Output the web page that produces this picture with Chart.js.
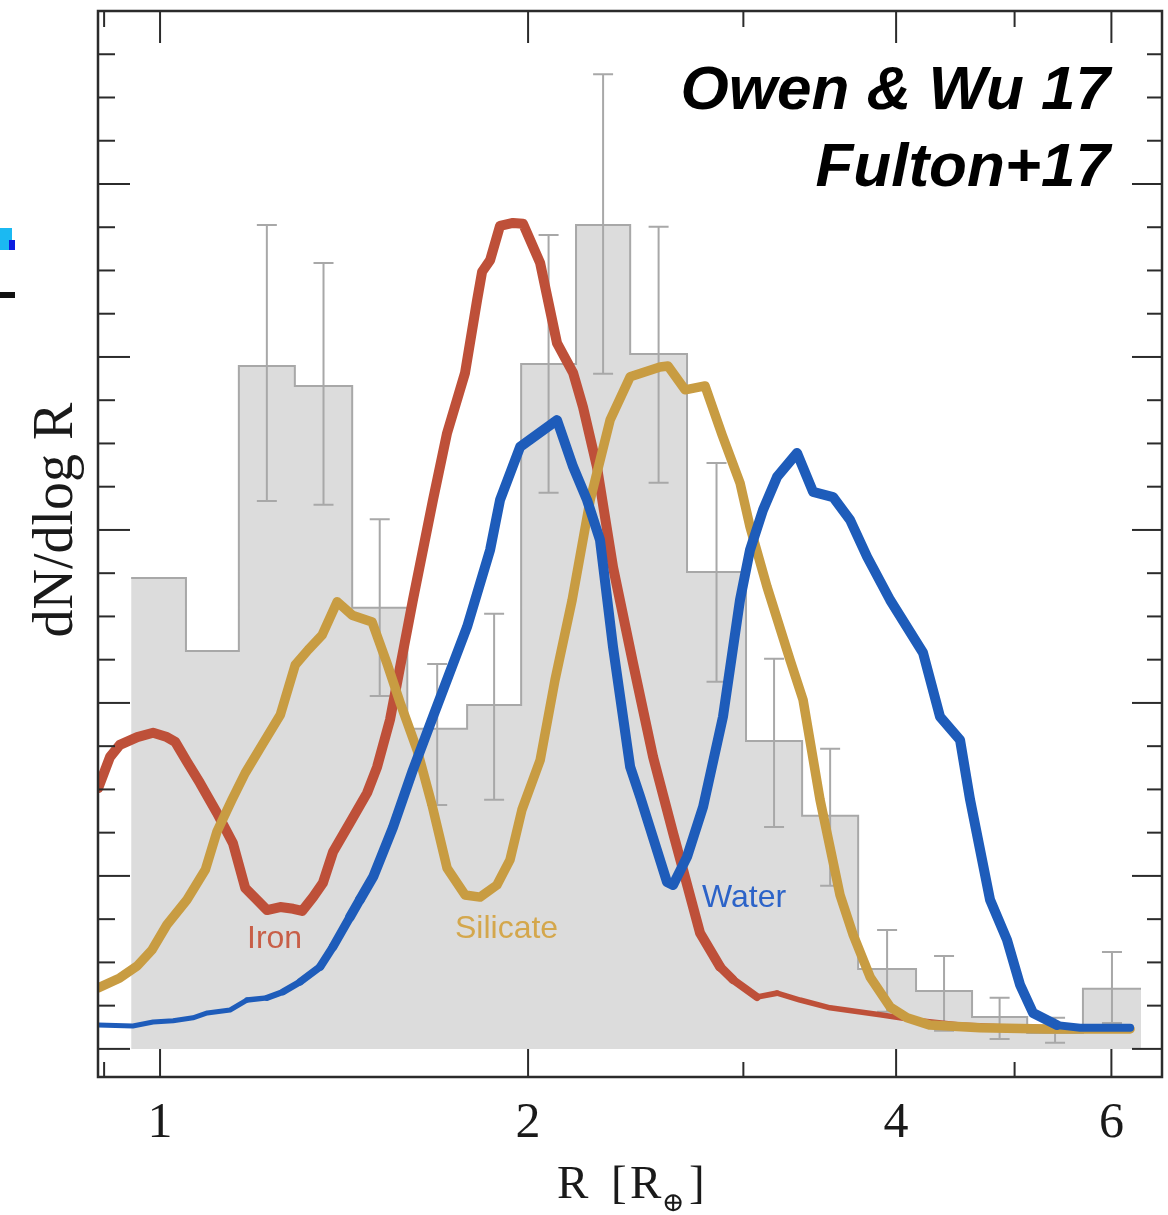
<!DOCTYPE html>
<html>
<head>
<meta charset="utf-8">
<title>Radius distribution: Owen &amp; Wu 17 vs Fulton+17</title>
<script src="https://cdn.jsdelivr.net/npm/chart.js@4.4.1/dist/chart.umd.min.js"></script>
<style>
    html, body { margin: 0; padding: 0; background: #fff; }
    #wrap { width: 1168px; height: 1215px; }
</style>
</head>
<body>
<div id="wrap"><canvas id="radiusChart" width="1168" height="1215"></canvas></div>
<script>
// Fulton+17 histogram (bin edges in R_earth, heights in minor-tick units)
const binEdges = [0.947, 1.050, 1.160, 1.289, 1.436, 1.593, 1.783, 1.974, 2.189, 2.424,
    2.698, 3.015, 3.351, 3.724, 4.153, 4.615, 5.120, 5.687, 6.344];
const binCounts = [10.89, 9.20, 15.79, 15.33, 10.20, 7.40, 7.95, 15.84, 19.05, 16.07,
    11.03, 7.12, 5.39, 1.85, 1.34, 0.74, 0.37, 1.39];
const errLow = [null, null, 12.67, 12.58, 8.16, 5.64, 5.76, 12.86, 15.61, 13.09,
    8.49, 5.13, 3.77, 0.86, 0.42, 0.23, 0.14, 0.60];
const errHigh = [null, null, 19.05, 18.17, 12.25, 8.90, 10.06, 18.82, 22.54, 19.01,
    13.55, 9.02, 6.94, 2.75, 2.15, 1.18, 0.72, 2.24];

// Owen & Wu 17 model curves
const ironR = [0.890, 0.910, 0.927, 0.958, 0.987, 1.013, 1.029, 1.052, 1.078, 1.113, 1.147,
    1.174, 1.200, 1.223, 1.254, 1.285, 1.307, 1.334, 1.359, 1.385, 1.430, 1.477, 1.505, 1.542,
    1.610, 1.672, 1.717, 1.776, 1.817, 1.834, 1.862, 1.897, 1.944, 1.981, 2.046, 2.112, 2.177,
    2.218, 2.277, 2.347, 2.437, 2.531, 2.628, 2.678, 2.765, 2.871, 2.942, 3.078, 3.197, 3.338,
    3.532, 3.881, 4.185, 4.512, 4.865, 5.346, 6.215];
const ironN = [6.03, 6.75, 7.03, 7.21, 7.31, 7.21, 7.10, 6.64, 6.15, 5.46, 4.76,
    3.72, 3.45, 3.21, 3.28, 3.24, 3.19, 3.51, 3.84, 4.55, 5.23, 5.92, 6.52, 7.61,
    10.38, 12.69, 14.24, 15.63, 17.32, 17.97, 18.24, 19.03, 19.10, 19.08, 18.17, 16.32, 15.63,
    14.84, 13.46, 11.14, 8.92, 6.75, 4.99, 4.14, 2.68, 1.90, 1.60, 1.20, 1.29, 1.13,
    0.95, 0.79, 0.65, 0.55, 0.51, 0.49, 0.49];

const silicateR = [0.890, 0.927, 0.958, 0.985, 1.013, 1.052, 1.089, 1.113, 1.145, 1.174, 1.212,
    1.254, 1.290, 1.322, 1.357, 1.396, 1.436, 1.491, 1.533, 1.572, 1.623, 1.669, 1.717, 1.776,
    1.827, 1.886, 1.933, 1.977, 2.046, 2.104, 2.173, 2.248, 2.334, 2.424, 2.564, 2.603, 2.688,
    2.791, 2.882, 2.981, 3.038, 3.137, 3.276, 3.357, 3.466, 3.599, 3.689, 3.809, 3.955, 4.083,
    4.264, 4.685, 5.316, 6.215];
const silicateN = [1.41, 1.64, 1.92, 2.29, 2.87, 3.45, 4.14, 5.02, 5.76, 6.38, 7.03,
    7.72, 8.88, 9.23, 9.57, 10.34, 10.03, 9.87, 8.92, 8.00, 6.91, 5.64, 4.18, 3.56,
    3.51, 3.79, 4.37, 5.53, 6.68, 8.53, 10.38, 12.69, 14.54, 15.54, 15.77, 15.79, 15.24,
    15.33, 14.20, 13.09, 12.07, 10.68, 8.99, 8.07, 5.76, 3.56, 2.64, 1.66, 0.97, 0.72,
    0.55, 0.49, 0.46, 0.46];

const waterR = [0.890, 0.950, 0.987, 1.025, 1.064, 1.093, 1.141, 1.178, 1.223, 1.261, 1.302,
    1.352, 1.385, 1.430, 1.457, 1.494, 1.551, 1.610, 1.672, 1.783, 1.862, 1.897, 1.970, 2.112,
    2.177, 2.235, 2.290, 2.347, 2.424, 2.470, 2.598, 2.628, 2.698, 2.781, 2.887, 2.981, 3.038,
    3.113, 3.197, 3.319, 3.421, 3.552, 3.668, 3.787, 3.955, 4.208, 4.345, 4.512, 4.598, 4.774,
    4.929, 5.052, 5.177, 5.416, 5.656, 6.215];
const waterN = [0.55, 0.53, 0.62, 0.65, 0.72, 0.83, 0.90, 1.13, 1.18, 1.32, 1.55,
    1.90, 2.36, 3.05, 3.45, 3.98, 5.13, 6.45, 7.68, 9.76, 11.54, 12.69, 13.92, 14.54,
    13.46, 12.69, 11.77, 9.29, 6.52, 5.83, 3.86, 3.79, 4.44, 5.60, 7.68, 10.38, 11.54,
    12.46, 13.23, 13.78, 12.88, 12.76, 12.23, 11.38, 10.38, 9.16, 7.68, 7.14, 5.76, 3.45,
    2.52, 1.48, 0.83, 0.55, 0.49, 0.49];

// axis ticks
const xMajorTicks = [1, 2, 4, 6];
const xTickLabels = ['1', '2', '4', '6'];
const xMinorTicks = [0.9, 3, 5];
const xMin = 0.8897, xMax = 6.600;
const yMin = -0.65, yMax = 24;

const IRON = '#be5039', SILICATE = '#c89c42', WATER = '#1e5cba';

function toPoints(xs, ys) {
    return xs.map((x, i) => ({ x: x, y: ys[i] }));
}

function lerp(a, b, t) {
    return a + (b - a) * Math.max(0, Math.min(1, t));
}

// histogram as a stepped line closed down to zero
const histPoints = toPoints(binEdges.slice(0, binCounts.length), binCounts);
histPoints.push({ x: binEdges[binEdges.length - 1], y: binCounts[binCounts.length - 1] });

const errorBarPlugin = {
    id: 'errorBars',
    afterDatasetDraw(chart, args) {
        if (args.index !== 0) return;
        const { ctx, scales: { x, y } } = chart;
        ctx.save();
        ctx.strokeStyle = '#a8a8a8';
        ctx.lineWidth = 2;
        binCounts.forEach((c, i) => {
            if (errLow[i] == null) return;
            const px = x.getPixelForValue(Math.sqrt(binEdges[i] * binEdges[i + 1]));
            const lo = y.getPixelForValue(errLow[i]);
            const hi = y.getPixelForValue(errHigh[i]);
            ctx.beginPath();
            ctx.moveTo(px, lo); ctx.lineTo(px, hi);
            ctx.moveTo(px - 10, lo); ctx.lineTo(px + 10, lo);
            ctx.moveTo(px - 10, hi); ctx.lineTo(px + 10, hi);
            ctx.stroke();
        });
        ctx.restore();
    }
};

const framePlugin = {
    id: 'frame',
    afterDraw(chart) {
        const { ctx, chartArea: a, scales: { x, y } } = chart;
        const seg = (x1, y1, x2, y2) => {
            ctx.beginPath(); ctx.moveTo(x1, y1); ctx.lineTo(x2, y2); ctx.stroke();
        };
        ctx.save();

        // curve labels
        ctx.font = '32px "Liberation Sans", Arial, sans-serif';
        ctx.textBaseline = 'alphabetic';
        ctx.textAlign = 'left';
        ctx.fillStyle = '#c85e47';
        ctx.fillText('Iron', 247, 948);
        ctx.fillStyle = '#d4a74c';
        ctx.fillText('Silicate', 455, 938);
        ctx.fillStyle = '#2c63c8';
        ctx.fillText('Water', 702, 907);

        // frame and inward ticks
        ctx.strokeStyle = '#2b2b2b';
        ctx.lineWidth = 2.5;
        ctx.strokeRect(a.left, a.top, a.right - a.left, a.bottom - a.top);
        ctx.lineWidth = 2;
        xMajorTicks.forEach(v => {
            const px = x.getPixelForValue(v);
            seg(px, a.bottom, px, a.bottom - 28);
            seg(px, a.top, px, a.top + 32);
        });
        xMinorTicks.forEach(v => {
            const px = x.getPixelForValue(v);
            seg(px, a.bottom, px, a.bottom - 15);
            seg(px, a.top, px, a.top + 16);
        });
        for (let v = 0; v <= yMax; v++) {
            const py = y.getPixelForValue(v);
            const major = v % 4 === 0;
            seg(a.left, py, a.left + (major ? 32 : 17), py);
            seg(a.right, py, a.right - (major ? 30 : 15), py);
        }

        // tick labels
        ctx.fillStyle = '#1a1a1a';
        ctx.font = '50px "Liberation Serif", "DejaVu Serif", serif';
        ctx.textAlign = 'center';
        xMajorTicks.forEach((v, i) => {
            ctx.fillText(xTickLabels[i], x.getPixelForValue(v), 1137);
        });

        // x title: R [R_⊕]
        ctx.textAlign = 'left';
        ctx.font = '47px "Liberation Serif", "DejaVu Serif", serif';
        ctx.fillText('R', 557, 1198);
        ctx.fillText('[', 611, 1198);
        ctx.fillText('R', 630, 1198);
        ctx.fillText(']', 689, 1198);
        ctx.font = '27px "DejaVu Serif", serif';
        ctx.fillText('\u2295', 662, 1211);

        // y title
        ctx.save();
        ctx.translate(72, 520);
        ctx.rotate(-Math.PI / 2);
        ctx.textAlign = 'center';
        ctx.font = '56px "Liberation Serif", "DejaVu Serif", serif';
        ctx.fillText('dN/dlog R', 0, 0);
        ctx.restore();

        // source annotation
        ctx.fillStyle = '#000';
        ctx.textAlign = 'right';
        ctx.font = 'italic bold 62px "Liberation Sans", Arial, sans-serif';
        ctx.fillText('Owen & Wu 17', 1110, 109);
        ctx.fillText('Fulton+17', 1110, 186);

        // remnant of neighbouring panel at the left crop edge
        ctx.fillStyle = '#1bb9f2';
        ctx.fillRect(0, 228, 12, 22);
        ctx.fillStyle = '#0b1de0';
        ctx.fillRect(9, 240, 6, 10);
        ctx.fillStyle = '#111';
        ctx.fillRect(0, 292, 15, 6);

        ctx.restore();
    }
};

new Chart(document.getElementById('radiusChart'), {
    type: 'line',
    data: {
        datasets: [
            {
                label: 'Fulton+17',
                data: histPoints,
                stepped: 'before',
                fill: 'origin',
                backgroundColor: '#dcdcdc',
                borderColor: '#a8a8a8',
                borderWidth: 2,
                order: 10
            },
            {
                label: 'Iron',
                data: toPoints(ironR, ironN),
                borderColor: IRON,
                borderWidth: 10,
                borderCapStyle: 'round',
                borderJoinStyle: 'round',
                segment: {
                    borderWidth: c => lerp(10, 5.5, (c.p0.parsed.x - 2.8) / 0.3)
                },
                fill: false,
                order: 3
            },
            {
                label: 'Silicate',
                data: toPoints(silicateR, silicateN),
                borderColor: SILICATE,
                borderWidth: 9.5,
                borderCapStyle: 'round',
                borderJoinStyle: 'round',
                fill: false,
                order: 2
            },
            {
                label: 'Water',
                data: toPoints(waterR, waterN),
                borderColor: WATER,
                borderWidth: 10,
                borderCapStyle: 'round',
                borderJoinStyle: 'round',
                segment: {
                    borderWidth: c => {
                        const xv = c.p0.parsed.x;
                        if (xv > 5.2) return 8;
                        return lerp(5, 10, (xv - 1.15) / 0.3);
                    }
                },
                fill: false,
                order: 1
            }
        ]
    },
    options: {
        responsive: false,
        animation: false,
        devicePixelRatio: 1,
        layout: { padding: { left: 98, right: 6, top: 11, bottom: 138 } },
        plugins: {
            legend: { display: false },
            tooltip: { enabled: false }
        },
        elements: {
            point: { radius: 0 },
            line: { tension: 0 }
        },
        scales: {
            x: { type: 'logarithmic', min: xMin, max: xMax, display: false },
            y: { type: 'linear', min: yMin, max: yMax, display: false }
        }
    },
    plugins: [errorBarPlugin, framePlugin]
});
</script>
</body>
</html>
